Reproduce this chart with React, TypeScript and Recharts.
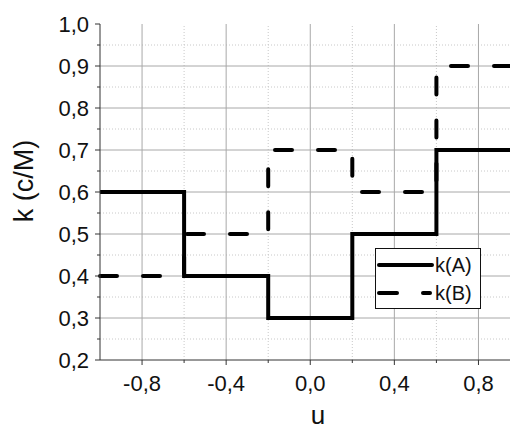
import { Line, LineChart, ReferenceLine, XAxis, YAxis } from 'recharts';

const uValues = [-1, -0.6, -0.2, 0.2, 0.6, 0.95];
const kA = [0.6, 0.4, 0.3, 0.5, 0.7, 0.7];
const kB = [0.4, 0.5, 0.7, 0.6, 0.9, 0.9];

const xTicks = [-0.8, -0.6, -0.4, -0.2, 0, 0.2, 0.4, 0.6, 0.8];
const xMajor = [-0.8, -0.4, 0, 0.4, 0.8];
const xMinor = [-0.6, -0.2, 0.2, 0.6];
const yTicks = [0.2, 0.25, 0.3, 0.35, 0.4, 0.45, 0.5, 0.55, 0.6, 0.65, 0.7, 0.75, 0.8, 0.85, 0.9, 0.95, 1.0];
const yMajorGrid = [0.3, 0.4, 0.5, 0.6, 0.7, 0.8, 0.9];
const yMinorGrid = [0.25, 0.35, 0.45, 0.55, 0.65, 0.75, 0.85, 0.95];
const seriesNames = ['k(A)', 'k(B)'];

const data = uValues.map((u, i) => ({ u, a: kA[i], b: kB[i] }));

const FONT = '"Liberation Sans", Arial, sans-serif';
const DASH = '17 26';

const fmt = (v: number) => v.toFixed(1).replace('.', ',');
const isMajor = (v: number, step: number) => Math.abs(v / step - Math.round(v / step)) < 1e-6;

function YTick(props: any) {
  const { x, y, payload } = props;
  const major = isMajor(payload.value, 0.1);
  return (
    <g>
      <line x1={x - (major ? 5 : 3)} x2={x} y1={y} y2={y} stroke="#333" strokeWidth={1} />
      {major && (
        <text x={x - 11} y={y} dy={8} textAnchor="end" fontSize={22} fontFamily={FONT} fill="#111">
          {fmt(payload.value)}
        </text>
      )}
    </g>
  );
}

function XTick(props: any) {
  const { x, y, payload } = props;
  const major = xMajor.some((m) => Math.abs(m - payload.value) < 1e-6);
  return (
    <g>
      <line x1={x} x2={x} y1={y} y2={y + (major ? 5 : 3)} stroke="#333" strokeWidth={1} />
      {major && (
        <text x={x} y={y + 31} textAnchor="middle" fontSize={22} fontFamily={FONT} fill="#111">
          {fmt(payload.value)}
        </text>
      )}
    </g>
  );
}

function LegendBox() {
  return (
    <div
      style={{
        position: 'absolute',
        left: 375,
        top: 248,
        width: 104,
        height: 59,
        border: '1px solid #111',
        background: '#fff',
      }}
    >
      <svg width={104} height={59} style={{ display: 'block' }}>
        <line x1={3} x2={56} y1={16} y2={16} stroke="#000" strokeWidth={4} strokeLinecap="round" />
        <text x={59} y={23} fontSize={20} fontFamily={FONT} fill="#111">{seriesNames[0]}</text>
        <line x1={3} x2={21} y1={44} y2={44} stroke="#000" strokeWidth={4} strokeLinecap="round" />
        <line x1={47} x2={54} y1={44} y2={44} stroke="#000" strokeWidth={4} strokeLinecap="round" />
        <text x={59} y={51} fontSize={20} fontFamily={FONT} fill="#111">{seriesNames[1]}</text>
      </svg>
    </div>
  );
}

export default function App() {
  return (
    <div style={{ position: 'absolute', left: 0, top: 0, width: 510, height: 430, background: '#fff', overflow: 'hidden' }}>
      <LineChart width={510} height={430} data={data} margin={{ top: 24, right: 0, bottom: 0, left: 0 }}>
        {yMinorGrid.map((v) => (
          <ReferenceLine key={'ym' + v} y={v} stroke="#c8c8c8" strokeDasharray="1 2" />
        ))}
        {xMinor.map((v) => (
          <ReferenceLine key={'xm' + v} x={v} stroke="#c8c8c8" strokeDasharray="1 2" />
        ))}
        {yMajorGrid.map((v) => (
          <ReferenceLine key={'yM' + v} y={v} stroke="#a8a8a8" />
        ))}
        {xMajor.map((v) => (
          <ReferenceLine key={'xM' + v} x={v} stroke="#a8a8a8" />
        ))}
        <XAxis
          dataKey="u"
          type="number"
          domain={[-1, 0.95]}
          ticks={xTicks}
          height={70}
          tickSize={0}
          tickMargin={0}
          tickLine={false}
          stroke="#333"
          tick={<XTick />}
          interval={0}
          label={{
            content: () => (
              <text x={318} y={424} textAnchor="middle" fontSize={26} fontFamily={FONT} fill="#111">u</text>
            ),
          }}
        />
        <YAxis
          type="number"
          domain={[0.2, 1.0]}
          ticks={yTicks}
          width={100}
          tickSize={0}
          tickMargin={0}
          tickLine={false}
          stroke="#333"
          tick={<YTick />}
          interval={0}
          label={{
            content: () => (
              <text
                x={33}
                y={181}
                transform="rotate(-90 33 181)"
                textAnchor="middle"
                fontSize={27}
                fontFamily={FONT}
                fill="#111"
              >
                k (c/M)
              </text>
            ),
          }}
        />
        <Line
          type="stepAfter"
          dataKey="a"
          name={seriesNames[0]}
          stroke="#000"
          strokeWidth={4}
          dot={false}
          isAnimationActive={false}
        />
        <Line
          type="stepAfter"
          dataKey="b"
          name={seriesNames[1]}
          stroke="#000"
          strokeWidth={4}
          strokeDasharray={DASH}
          strokeLinecap="round"
          dot={false}
          isAnimationActive={false}
        />
      </LineChart>
      <LegendBox />
    </div>
  );
}
